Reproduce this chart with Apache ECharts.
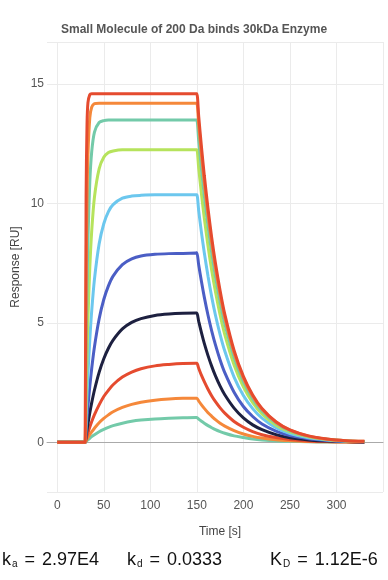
<!DOCTYPE html>
<html><head><meta charset="utf-8">
<script src="https://cdn.jsdelivr.net/npm/echarts@6/dist/echarts.min.js"></script>
<style>html,body{margin:0;padding:0;background:#fff}#c{width:388px;height:580px}</style>
</head><body><div id="c"></div>
<script>
// time [s]
const time = [0, 29, 30, 31, 32, 33, 35, 37, 40, 45, 50, 55, 60, 70, 80, 90, 105, 120, 135, 149, 150,
  152, 155, 158, 162, 166, 170, 175, 180, 190, 200, 210, 220, 235, 250, 270, 290, 310, 330];
// Response [RU] per analyte concentration
const c40 = [0, 0, 0, 10.29, 13.32, 14.22, 14.56, 14.59, 14.59, 14.59, 14.59, 14.59, 14.59, 14.59, 14.59, 14.59, 14.59, 14.59, 14.59, 14.59, 14.59,
  13.65, 12.35, 11.18, 9.78, 8.56, 7.50, 6.35, 5.37, 3.85, 2.76, 1.98, 1.42, 0.86, 0.52, 0.27, 0.14, 0.07, 0.04];
const c20 = [0, 0, 0, 6.62, 10.15, 12.04, 13.59, 14.03, 14.18, 14.20, 14.20, 14.20, 14.20, 14.20, 14.20, 14.20, 14.20, 14.20, 14.20, 14.20, 14.20,
  13.29, 12.03, 10.88, 9.53, 8.34, 7.30, 6.18, 5.23, 3.75, 2.69, 1.93, 1.38, 0.84, 0.51, 0.26, 0.13, 0.07, 0.04];
const c10 = [0, 0, 0, 3.79, 6.52, 8.48, 10.90, 12.15, 12.99, 13.39, 13.47, 13.49, 13.49, 13.49, 13.49, 13.49, 13.49, 13.49, 13.49, 13.49, 13.49,
  12.62, 11.42, 10.33, 9.05, 7.92, 6.93, 5.87, 4.97, 3.56, 2.55, 1.83, 1.31, 0.80, 0.48, 0.25, 0.13, 0.07, 0.03];
const c5 = [0, 0, 0, 2.04, 3.74, 5.15, 7.32, 8.82, 10.27, 11.45, 11.93, 12.13, 12.20, 12.25, 12.25, 12.25, 12.25, 12.25, 12.25, 12.25, 12.25,
  11.47, 10.38, 9.39, 8.22, 7.19, 6.30, 5.33, 4.51, 3.24, 2.32, 1.66, 1.19, 0.72, 0.44, 0.23, 0.12, 0.06, 0.03];
const c2_5 = [0, 0, 0, 1.06, 2.01, 2.86, 4.31, 5.48, 6.83, 8.30, 9.15, 9.66, 9.95, 10.22, 10.31, 10.34, 10.36, 10.36, 10.36, 10.36, 10.36,
  9.69, 8.77, 7.94, 6.95, 6.08, 5.32, 4.51, 3.82, 2.73, 1.96, 1.41, 1.01, 0.61, 0.37, 0.19, 0.10, 0.05, 0.03];
const c1_25 = [0, 0, 0, 0.54, 1.04, 1.51, 2.35, 3.08, 4.00, 5.16, 5.98, 6.55, 6.96, 7.44, 7.68, 7.80, 7.87, 7.90, 7.91, 7.93, 7.94,
  7.42, 6.72, 6.08, 5.32, 4.66, 4.08, 3.45, 2.92, 2.10, 1.50, 1.08, 0.77, 0.47, 0.28, 0.15, 0.08, 0.04, 0.02];
const c0_625 = [0, 0, 0, 0.27, 0.53, 0.78, 1.24, 1.65, 2.19, 2.93, 3.50, 3.94, 4.28, 4.75, 5.02, 5.18, 5.31, 5.37, 5.40, 5.41, 5.41,
  5.06, 4.58, 4.14, 3.63, 3.18, 2.78, 2.35, 1.99, 1.43, 1.02, 0.73, 0.53, 0.32, 0.19, 0.10, 0.05, 0.03, 0.01];
const c0_3125 = [0, 0, 0, 0.14, 0.28, 0.40, 0.64, 0.86, 1.16, 1.57, 1.92, 2.18, 2.41, 2.73, 2.94, 3.08, 3.20, 3.26, 3.30, 3.31, 3.31,
  3.10, 2.80, 2.54, 2.22, 1.94, 1.70, 1.44, 1.22, 0.87, 0.63, 0.45, 0.32, 0.20, 0.12, 0.06, 0.03, 0.02, 0.01];
const c0_156 = [0, 0, 0, 0.07, 0.14, 0.20, 0.33, 0.44, 0.59, 0.82, 1.00, 1.15, 1.28, 1.46, 1.59, 1.68, 1.76, 1.81, 1.84, 1.85, 1.85,
  1.73, 1.57, 1.42, 1.24, 1.09, 0.95, 0.80, 0.68, 0.49, 0.35, 0.25, 0.18, 0.11, 0.07, 0.03, 0.02, 0.01, 0.00];
const c0_078 = [0, 0, 0, 0.04, 0.07, 0.11, 0.17, 0.24, 0.32, 0.44, 0.54, 0.63, 0.70, 0.80, 0.88, 0.93, 0.98, 1.01, 1.03, 1.04, 1.04,
  0.97, 0.88, 0.80, 0.70, 0.61, 0.53, 0.45, 0.38, 0.27, 0.20, 0.14, 0.10, 0.06, 0.04, 0.02, 0.01, 0.01, 0.00];

const xTickLabels = [0, 50, 100, 150, 200, 250, 300];
const yTickLabels = [0, 5, 10, 15];

const RED = '#e54b2f', ORANGE = '#f5883a', TEAL = '#73caa9', GREEN = '#b6e35c', SKY = '#6cc7ee', BLUE = '#4b5ec5', NAVY = '#1d2040';
// drawn from lowest to highest concentration
const seriesDefs = [
  ['0.078 µM', c0_078, TEAL], ['0.156 µM', c0_156, ORANGE], ['0.3125 µM', c0_3125, RED],
  ['0.625 µM', c0_625, NAVY], ['1.25 µM', c1_25, BLUE], ['2.5 µM', c2_5, SKY],
  ['5 µM', c5, GREEN], ['10 µM', c10, TEAL], ['20 µM', c20, ORANGE], ['40 µM', c40, RED]
];

const FONT = 'Liberation Sans, Arial, sans-serif';
const chart = echarts.init(document.getElementById('c'), null, {renderer: 'canvas'});

const series = seriesDefs.map(([name, vals, color]) => ({
  name, type: 'line', xAxisIndex: 0, yAxisIndex: 0,
  data: time.map((t, i) => [t, vals[i]]),
  showSymbol: false, smooth: 0.3, animation: false,
  lineStyle: {color, width: 3}, itemStyle: {color},
  z: 3
}));

const richStyles = {
  s: {fontSize: 10, fontFamily: FONT, fill: '#111', verticalAlign: 'bottom', padding: [6, 0, 0, 1]},
  e: {fontSize: 18, fontFamily: FONT, fill: '#111', padding: [0, 7, 0, 7]}
};
const formulaText = (x, txt) => ({
  type: 'text', x, y: 560,
  style: {text: txt, font: '18px ' + FONT, fill: '#111', align: 'left', verticalAlign: 'middle', rich: richStyles}
});

const option = {
  animation: false,
  backgroundColor: '#ffffff',
  title: {
    text: 'Small Molecule of 200 Da binds 30kDa Enzyme', left: 'center', top: 24, padding: 0,
    textStyle: {fontFamily: FONT, fontSize: 12, fontWeight: 'bold', color: '#555555'}
  },
  grid: {left: 47, right: 5, top: 42, bottom: 88, containLabel: false},
  xAxis: [{
    type: 'value', min: -11, max: 350, splitNumber: 7,
    axisLine: {show: false, onZero: false}, axisTick: {show: false},
    axisLabel: {color: '#555', fontSize: 12, fontFamily: FONT, margin: 8,
      formatter: v => xTickLabels.includes(v) ? String(v) : ''},
    splitLine: {show: true, showMinLine: false, lineStyle: {color: '#ebebeb', width: 1}}
  }, {
    type: 'value', min: -11, max: 350, position: 'bottom',
    axisLine: {show: true, onZero: true, lineStyle: {color: '#aaaaaa', width: 1}},
    axisTick: {show: false}, axisLabel: {show: false}, splitLine: {show: false}
  }],
  yAxis: {
    type: 'value', min: -2.08, max: 16.76, splitNumber: 4,
    axisLine: {show: false}, axisTick: {show: false},
    axisLabel: {color: '#555', fontSize: 12, fontFamily: FONT, margin: 3,
      formatter: v => yTickLabels.includes(v) ? String(v) : ''},
    splitLine: {show: true, lineStyle: {color: '#ebebeb', width: 1}}
  },
  graphic: [
    {type: 'text', x: 16, y: 267, rotation: Math.PI / 2,
      style: {text: 'Response [RU]', font: '12px ' + FONT, fill: '#444', align: 'center', verticalAlign: 'middle'}},
    {type: 'text', x: 220, y: 532,
      style: {text: 'Time [s]', font: '12px ' + FONT, fill: '#444', align: 'center', verticalAlign: 'middle'}},
    formulaText(2, 'k{s|a}{e|=}2.97E4'),
    formulaText(127, 'k{s|d}{e|=}0.0333'),
    formulaText(270, 'K{s|D}{e|=}1.12E-6')
  ],
  series
};
chart.setOption(option);
</script></body></html>
